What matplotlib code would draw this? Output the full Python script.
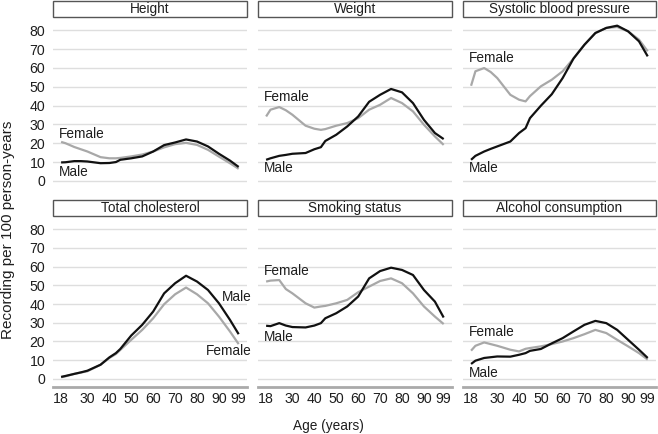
import matplotlib
matplotlib.use("Agg")
import matplotlib.pyplot as plt
from matplotlib.patches import Rectangle

plt.rcParams['font.family'] = ['Liberation Sans', 'DejaVu Sans']

AGES = [18, 20, 24, 27, 30, 36, 40, 43, 45, 50, 55, 60, 65, 70, 75, 80, 85, 90, 95, 99]

height_m = [9.8, 9.9, 10.5, 10.5, 10.3, 9.4, 9.5, 10.0, 11.2, 12.0, 13.0, 15.6, 19.0, 20.4, 22.0, 20.9, 18.3, 14.4, 10.8, 7.4]
height_f = [20.7, 20.0, 18.0, 16.8, 15.6, 12.6, 12.0, 12.0, 12.2, 13.0, 14.0, 15.6, 17.8, 19.5, 20.2, 19.1, 16.5, 12.9, 9.4, 6.4]
weight_m = [11.2, 12.0, 13.3, 13.8, 14.4, 14.8, 16.8, 17.9, 21.2, 24.5, 28.9, 34.2, 42.0, 45.7, 48.8, 47.0, 41.3, 32.4, 25.4, 22.2]
weight_f = [34.2, 37.8, 39.2, 37.5, 35.1, 29.3, 27.7, 27.1, 27.5, 29.3, 30.7, 33.3, 37.8, 40.4, 44.0, 41.3, 36.9, 29.8, 23.6, 19.1]
sbp_m = [11.2, 13.3, 15.6, 17.0, 18.3, 20.9, 25.4, 28.0, 33.3, 39.9, 46.0, 54.6, 65.0, 72.3, 78.5, 81.2, 82.4, 79.4, 74.1, 66.1]
sbp_f = [50.5, 58.2, 59.9, 57.8, 54.6, 45.7, 43.1, 42.2, 45.0, 50.2, 53.7, 58.2, 65.0, 72.3, 78.5, 81.2, 81.7, 79.4, 75.0, 68.8]
chol_m = [1.1, 1.6, 2.7, 3.5, 4.4, 7.6, 11.5, 13.8, 16.0, 23.2, 28.9, 36.0, 45.7, 51.1, 55.1, 52.0, 47.5, 40.4, 31.6, 23.9]
chol_f = [0.9, 1.4, 2.7, 3.4, 4.1, 7.6, 11.2, 13.3, 15.5, 20.9, 26.2, 32.4, 39.9, 45.2, 48.8, 45.2, 40.4, 33.3, 25.4, 18.6]
smoke_m = [28.4, 28.2, 29.8, 28.5, 27.7, 27.5, 28.5, 29.8, 32.4, 35.1, 38.7, 44.0, 53.7, 57.6, 59.4, 58.2, 55.5, 47.5, 41.3, 32.8]
smoke_f = [52.0, 52.5, 52.8, 48.0, 45.7, 40.4, 38.1, 38.7, 39.0, 40.4, 42.2, 46.3, 49.3, 52.3, 53.7, 51.1, 45.7, 38.7, 33.3, 29.3]
alc_m = [8.0, 9.75, 11.2, 11.6, 12.0, 11.9, 12.9, 13.8, 15.0, 16.0, 19.0, 21.8, 25.4, 28.9, 31.0, 29.8, 26.2, 20.9, 15.6, 11.2]
alc_f = [15.1, 17.7, 19.5, 18.6, 17.7, 15.6, 14.7, 16.1, 16.5, 17.4, 18.6, 20.0, 21.8, 23.9, 26.2, 24.5, 20.9, 17.4, 13.8, 10.3]

TITLES = ["Height", "Weight", "Systolic blood pressure",
          "Total cholesterol", "Smoking status", "Alcohol consumption"]
MALE = [height_m, weight_m, sbp_m, chol_m, smoke_m, alc_m]
FEMALE = [height_f, weight_f, sbp_f, chol_f, smoke_f, alc_f]

# label positions: (x, y, ha) for Female, Male
FEM_LBL = [(17.2, 25.0, 'left'), (17.2, 44.7, 'left'), (17.2, 65.4, 'left'),
           (105.0, 14.9, 'right'), (17.2, 57.4, 'left'), (17.2, 25.0, 'left')]
MALE_LBL = [(17.2, 4.8, 'left'), (17.2, 6.9, 'left'), (17.2, 6.9, 'left'),
            (105.0, 44.0, 'right'), (17.2, 22.3, 'left'), (17.2, 3.2, 'left')]

XTICKS = [18, 30, 40, 50, 60, 70, 80, 90, 99]
YTICKS = [0, 10, 20, 30, 40, 50, 60, 70, 80]

W, H = 658, 434
fig = plt.figure(figsize=(W / 100, H / 100), dpi=100)

cols = [(53, 194), (258, 194), (463, 193)]
rows = [(17, 189), (216, 387)]
STRIP_H = 16.5
FS = 9.8
TXT = '#1e1e1e'

for i in range(6):
    r, c = divmod(i, 3)
    x0, w = cols[c]
    top, bot = rows[r]
    ax = fig.add_axes([x0 / W, 1 - bot / H, w / W, (bot - top) / H])
    ax.set_xlim(14.3, 102.8)
    ax.set_ylim(-4.3, 87)
    ax.set_yticks(YTICKS)
    ax.set_xticks(XTICKS)
    ax.grid(axis='y', color='#dedede', linewidth=1.0)
    ax.set_axisbelow(True)
    for s in ['top', 'right', 'left']:
        ax.spines[s].set_visible(False)
    if r == 1:
        ax.spines['bottom'].set_color('#aaaaaa')
        ax.spines['bottom'].set_linewidth(2.0)
        ax.tick_params(axis='x', length=0, pad=3.5, labelsize=FS + 0.4, labelcolor=TXT)
    else:
        ax.spines['bottom'].set_visible(False)
        ax.tick_params(axis='x', length=0, labelbottom=False)
    if c == 0:
        ax.tick_params(axis='y', length=0, pad=5.5, labelsize=FS + 0.4, labelcolor=TXT)
    else:
        ax.tick_params(axis='y', length=0, labelleft=False)

    ax.plot(AGES, FEMALE[i], color='#a8a8a8', linewidth=1.6, solid_capstyle='butt')
    ax.plot(AGES, MALE[i], color='#111111', linewidth=1.6, solid_capstyle='butt')

    fx, fy, fha = FEM_LBL[i]
    mx, my, mha = MALE_LBL[i]
    ax.text(fx, fy, "Female", ha=fha, va='center', fontsize=FS, color=TXT, clip_on=False)
    ax.text(mx, my, "Male", ha=mha, va='center', fontsize=FS, color=TXT, clip_on=False)

    # strip
    sh = STRIP_H / (bot - top)
    rect = Rectangle((0, 1.0), 1, sh, transform=ax.transAxes, facecolor='white',
                     edgecolor='#555555', linewidth=1.0, clip_on=False)
    ax.add_patch(rect)
    ax.text(0.5, 1.0 + sh / 2, TITLES[i], transform=ax.transAxes, ha='center',
            va='center', fontsize=FS, color=TXT)

fig.text(8 / W, 1 - 230 / H, "Recording per 100 person-years", rotation=90,
         ha='center', va='center', fontsize=11, color=TXT)
fig.text(328 / W, 1 - 426 / H, "Age (years)", ha='center', va='center',
         fontsize=FS, color=TXT)

fig.savefig("out.png", dpi=100)
